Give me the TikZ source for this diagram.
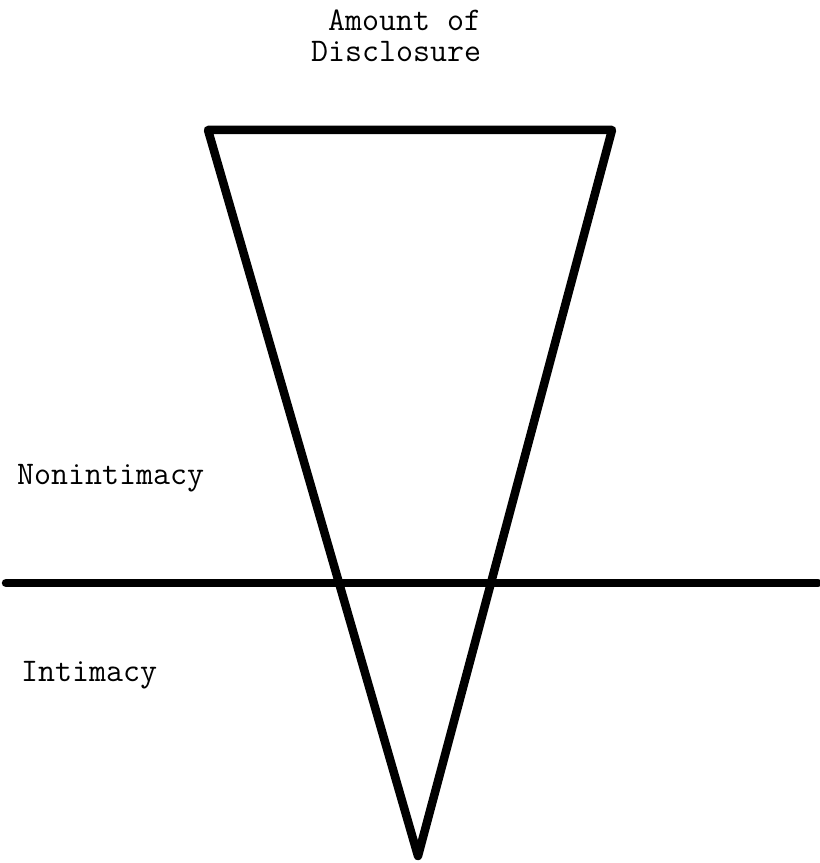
\documentclass[tikz,border=0pt]{standalone}
\begin{document}
\begin{tikzpicture}[x=1pt,y=1pt,
  lbl/.style={anchor=base west,inner sep=0pt,font=\fontsize{33}{31}\selectfont\ttfamily},
  heavy/.style={line width=8.5pt,line cap=round,line join=round}]
\useasboundingbox (0,0) rectangle (820,863);
\node[lbl,align=left] (title) at (311,801) {\hphantom{D}Amount of\\Disclosure};
\node[lbl] (non) at (17,378) {Nonintimacy};
\node[lbl] (int) at (21,181) {Intimacy};
\coordinate (tl) at (208,733);
\coordinate (tr) at (612,733);
\coordinate (ap) at (418,7);
\coordinate (hl) at (6,280);
\coordinate (hr) at (818,280);
\draw[heavy] (tl) -- (tr) -- (ap) -- cycle;
\draw[heavy] (hl) -- (hr);
\end{tikzpicture}
\end{document}
